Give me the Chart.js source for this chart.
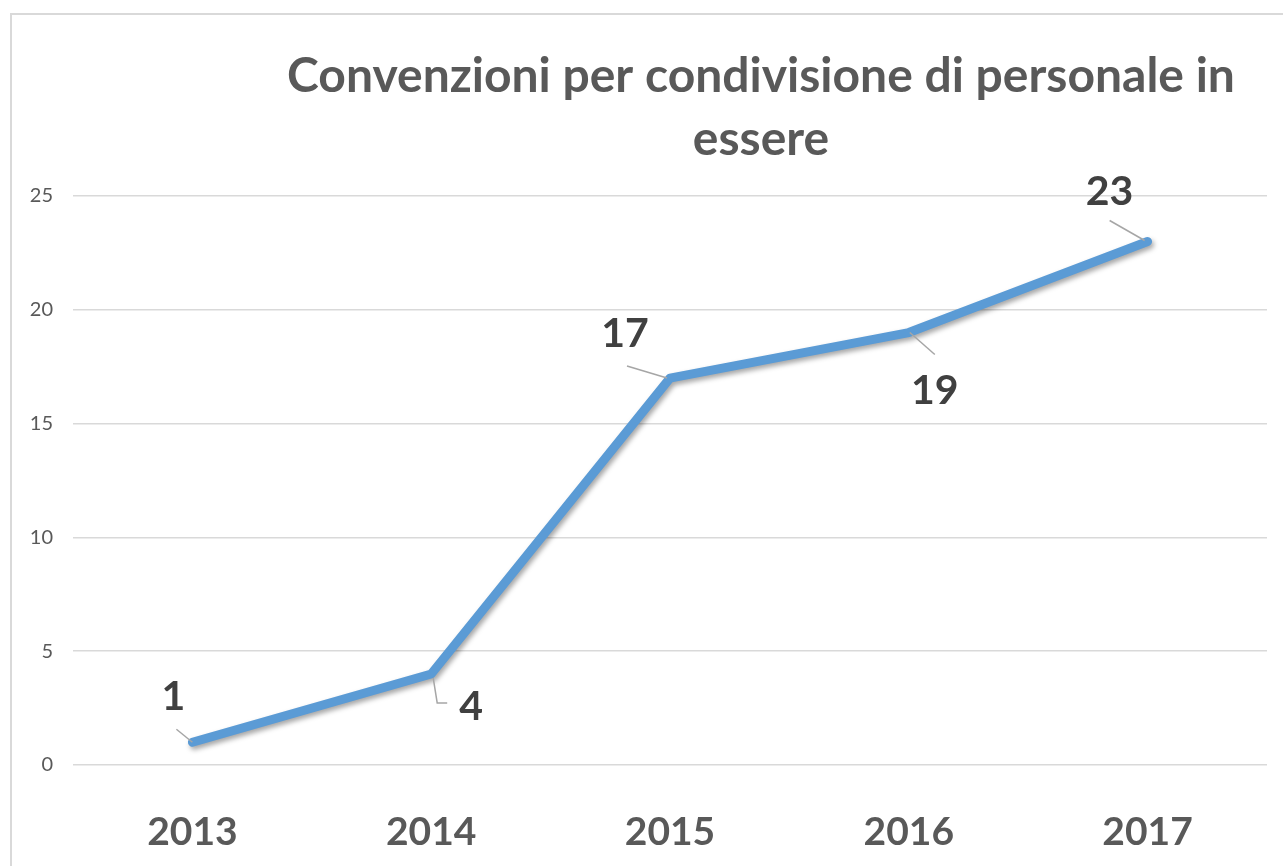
<!DOCTYPE html>
<html>
<head>
<meta charset="utf-8">
<script src="https://cdn.jsdelivr.net/npm/chart.js@4.4.1/dist/chart.umd.min.js"></script>
<style>
  html, body { margin: 0; padding: 0; background: #fff; }
  #wrap { position: absolute; left: 0; top: 0; width: 1283px; height: 866px; }
</style>
</head>
<body>
<div id="wrap"><canvas id="chart"></canvas></div>
<script>
// data
const years = ["2013", "2014", "2015", "2016", "2017"];
const convenzioni = [1, 4, 17, 19, 23];
const titleLines = ["Convenzioni per condivisione di personale in", "essere"];
const yMax = 25;
const yStep = 5;

// where each value label sits relative to its point, and its leader line
const labelOffsets = [[-19, -45], [40, 33], [-45, -44], [26, 58], [-38, -50]];
const leaders = [
  [[-16, -13], [0, 0]],
  [[2, 4], [6, 29], [16, 29]],
  [[-43, -12], [-3, 0]],
  [[1, 0], [26, 22]],
  [[-38, -21], [-3, -1]]
];

const FONT = "Lato, 'Open Sans', sans-serif";

const framePlugin = {
  id: "frame",
  beforeDraw(chart) {
    const ctx = chart.ctx;
    ctx.save();
    ctx.strokeStyle = "#d9d9d9";
    ctx.lineWidth = 2;
    ctx.beginPath();
    ctx.moveTo(11, 866);
    ctx.lineTo(11, 14);
    ctx.lineTo(1283, 14);
    ctx.stroke();
    ctx.restore();
  },
  afterDraw(chart) {
    const ctx = chart.ctx;
    ctx.save();
    ctx.fillStyle = "#595959";
    ctx.font = "bold 48px " + FONT;
    ctx.textAlign = "center";
    ctx.textBaseline = "alphabetic";
    ctx.fillText(titleLines[0], 761, 92);
    ctx.fillText(titleLines[1], 761, 155);
    ctx.restore();
  }
};

const shadowPlugin = {
  id: "lineShadow",
  beforeDatasetsDraw(chart) {
    const ctx = chart.ctx;
    ctx.save();
    ctx.shadowColor = "rgba(0,0,0,0.35)";
    ctx.shadowBlur = 5;
    ctx.shadowOffsetX = 2;
    ctx.shadowOffsetY = 3;
  },
  afterDatasetsDraw(chart) {
    chart.ctx.restore();
  }
};

const labelPlugin = {
  id: "valueLabels",
  afterDatasetsDraw(chart) {
    const ctx = chart.ctx;
    const pts = chart.getDatasetMeta(0).data;
    ctx.save();
    pts.forEach((p, i) => {
      ctx.strokeStyle = "#a6a6a6";
      ctx.lineWidth = 1.5;
      ctx.beginPath();
      leaders[i].forEach((d, k) => {
        if (k === 0) ctx.moveTo(p.x + d[0], p.y + d[1]);
        else ctx.lineTo(p.x + d[0], p.y + d[1]);
      });
      ctx.stroke();
      ctx.fillStyle = "#404040";
      ctx.font = "bold 41px " + FONT;
      ctx.textAlign = "center";
      ctx.textBaseline = "middle";
      ctx.fillText(String(convenzioni[i]), p.x + labelOffsets[i][0], p.y + labelOffsets[i][1]);
    });
    ctx.restore();
  }
};

new Chart(document.getElementById("chart"), {
  type: "line",
  data: {
    labels: years,
    datasets: [{
      data: convenzioni,
      borderColor: "#5b9bd5",
      borderWidth: 9,
      borderCapStyle: "round",
      borderJoinStyle: "round",
      pointRadius: 0,
      tension: 0,
      fill: false
    }]
  },
  options: {
    responsive: true,
    maintainAspectRatio: false,
    animation: false,
    layout: { padding: { left: 0, top: 196, right: 16, bottom: 0 } },
    plugins: {
      legend: { display: false },
      tooltip: { enabled: false }
    },
    scales: {
      x: {
        offset: true,
        grid: { display: false, drawTicks: false },
        border: { display: false },
        afterFit(scale) { scale.height = 101; },
        ticks: {
          color: "#595959",
          padding: 44,
          font: { family: FONT, size: 39, weight: "bold" }
        }
      },
      y: {
        min: 0,
        max: yMax,
        grid: { color: "#d9d9d9", lineWidth: 1.5, drawTicks: false },
        border: { display: false },
        afterFit(scale) { scale.width = 73; },
        ticks: {
          stepSize: yStep,
          color: "#595959",
          padding: 20,
          font: { family: FONT, size: 20 }
        }
      }
    }
  },
  plugins: [framePlugin, shadowPlugin, labelPlugin]
});
</script>
</body>
</html>
